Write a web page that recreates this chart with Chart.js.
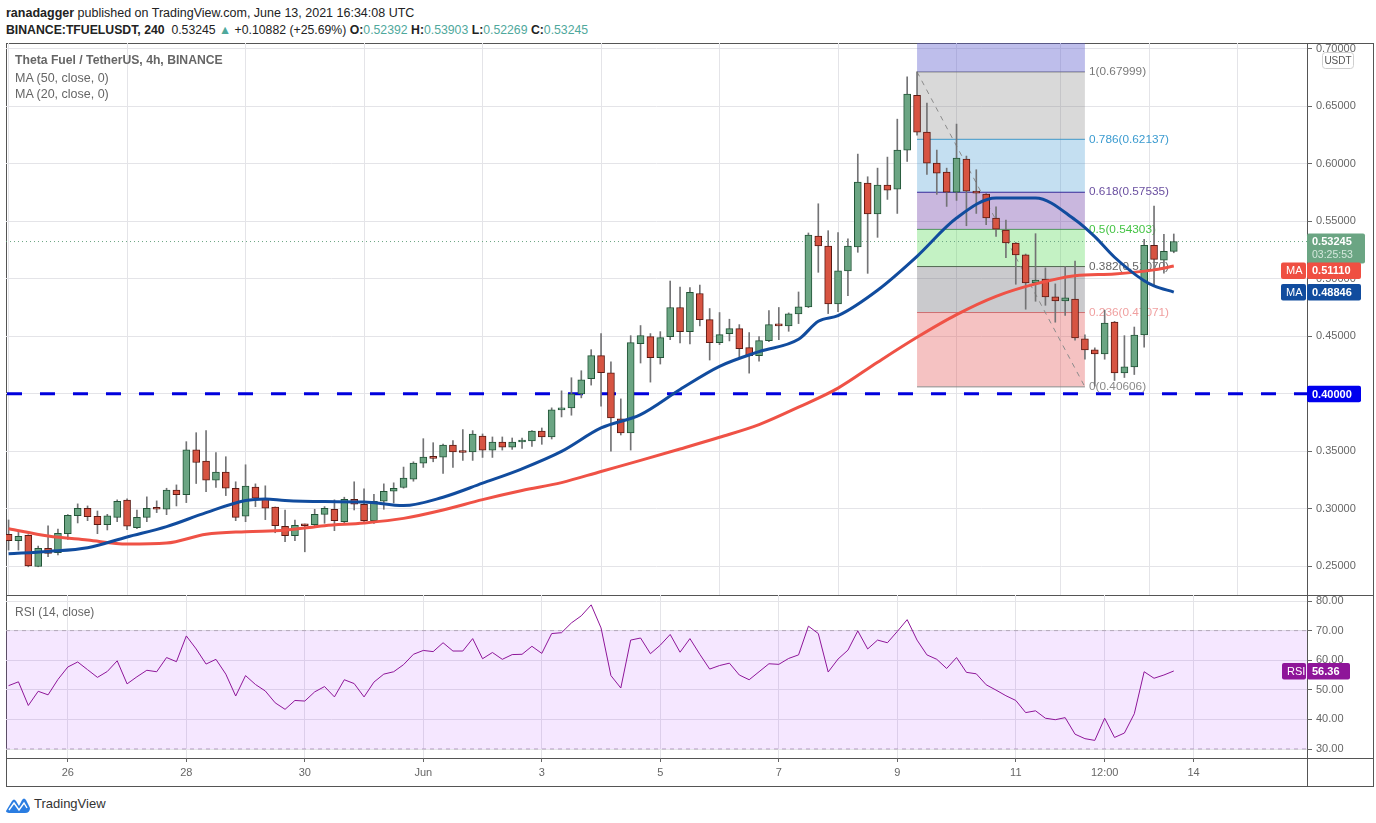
<!DOCTYPE html>
<html>
<head>
<meta charset="utf-8">
<title>TFUELUSDT 4h</title>
<script src="https://cdn.jsdelivr.net/npm/chart.js@4/dist/chart.umd.min.js"></script>
<style>
  html, body { margin: 0; padding: 0; background: #fff; width: 1376px; height: 823px; overflow: hidden; }
  body { position: relative; font-family: 'Liberation Sans', sans-serif; color: #222; }
  canvas { position: absolute; left: 0; }
  .frame { position: absolute; background: #555; }
  .head { position: absolute; left: 6px; font-size: 12.4px; white-space: nowrap; line-height: 16px; }
  .head b { font-weight: bold; }
  .up { color: #4fa89c; }
  .legend { position: absolute; left: 15px; font-size: 12.5px; color: #666; white-space: nowrap; line-height: 16px; z-index: 3; }
  .brand { position: absolute; left: 34px; top: 796px; font-size: 13px; color: #333; }
  svg { position: absolute; left: 6px; top: 796px; }
</style>
</head>
<body>
<div class="head" style="top:5px;font-size:12.5px"><b>ranadagger</b> published on TradingView.com, June 13, 2021 16:34:08 UTC</div>
<div class="head" style="top:22px;font-size:12.25px"><b>BINANCE:TFUELUSDT, 240</b>&nbsp; 0.53245 <span class="up">▲</span> +0.10882 (+25.69%) <b>O:</b><span class="up">0.52392</span> <b>H:</b><span class="up">0.53903</span> <b>L:</b><span class="up">0.52269</span> <b>C:</b><span class="up">0.53245</span></div>

<div class="frame" style="left:6px;top:43px;width:1368px;height:1px"></div>
<div class="frame" style="left:6px;top:595px;width:1368px;height:1px"></div>
<div class="frame" style="left:6px;top:758px;width:1368px;height:1px"></div>
<div class="frame" style="left:6px;top:786px;width:1368px;height:1px"></div>
<div class="frame" style="left:6px;top:43px;width:1px;height:744px"></div>
<div class="frame" style="left:1307px;top:43px;width:1px;height:744px"></div>
<div class="frame" style="left:1373px;top:43px;width:1px;height:744px"></div>

<canvas id="chart-price" width="1376" height="595" style="top:0"></canvas>
<canvas id="chart-rsi" width="1376" height="191" style="top:595px"></canvas>

<div class="legend" style="top:52px;font-weight:bold;font-size:12.2px">Theta Fuel / TetherUS, 4h, BINANCE</div>
<div class="legend" style="top:70px">MA (50, close, 0)</div>
<div class="legend" style="top:86px">MA (20, close, 0)</div>
<div class="legend" style="top:604px;font-size:12px">RSI (14, close)</div>

<svg width="24" height="18" viewBox="0 0 24 18">
  <path d="M0 15 L6 5 Q8 2 10 5 L13 10 L16 4 Q18 1 20 4 L24 12 Q24 17 19 17 L5 17 Q0 17 0 15 Z" fill="#2a7de1"/>
  <path d="M3 14 L8 7 L13 14 L18 7 L21 12" fill="none" stroke="#fff" stroke-width="1.4"/>
</svg>
<div class="brand">TradingView</div>

<script>
/* candles, bar index 0 = May 25 00:00, one bar = 4h */
const opens = [
  .2778,.2723,.2769,.2498,.2656,.2618,.2784,.2941,.3005,.2935,
  .2862,.2926,.3075,.2836,.2926,.3005,.2996,.3162,.3124,.3514,
  .3415,.3249,.3319,.3179,.2935,.3188,.3092,.3014,.2848,.2766,
  .2865,.2862,.2952,.2996,.2888,.3083,.3040,.2897,.3066,.3153,
  .3185,.3258,.3398,.3450,.3450,.3555,.3494,.3494,.3633,.3511,
  .3581,.3537,.3581,.3590,.3677,.3625,.3860,.3878,.4000,.4131,
  .4332,.4183,.3782,.3660,.4437,.4498,.4314,.4498,.4751,.4541,
  .4873,.4646,.4445,.4524,.4567,.4402,.4332,.4463,.4594,.4591,
  .4695,.4756,.5373,.5286,.4782,.5069,.5277,.5833,.5564,.5816,
  .5781,.6120,.6597,.6276,.6007,.5929,.5755,.6041,.5755,.5737,
  .5529,.5425,.5312,.5208,.4964,.4999,.4843,.4808,.4825,.4478,
  .4382,.4347,.4624,.4182,.4234,.4512,.5292,.5162,.52392
];
const highs = [
  .2903,.2795,.2775,.2676,.2851,.2824,.2950,.3043,.3025,.2981,
  .2952,.3078,.3086,.2990,.3104,.3069,.3179,.3208,.3584,.3662,
  .3680,.3488,.3453,.3235,.3383,.3217,.3200,.3016,.2990,.2903,
  .2868,.2996,.3019,.3078,.3101,.3235,.3174,.3127,.3217,.3226,
  .3363,.3409,.3610,.3575,.3563,.3593,.3689,.3680,.3651,.3625,
  .3625,.3616,.3616,.3680,.3703,.3878,.4026,.4140,.4201,.4384,
  .4524,.4279,.3956,.4506,.4594,.4524,.4541,.4981,.4928,.4925,
  .4946,.4742,.4707,.4649,.4602,.4533,.4498,.4725,.4751,.4704,
  .4886,.5399,.5653,.5419,.5402,.5349,.6085,.5888,.5963,.6059,
  .6389,.6757,.6800,.6528,.6120,.5963,.6346,.6068,.5949,.5742,
  .5627,.5512,.5316,.5216,.5393,.5095,.4956,.5109,.5155,.4513,
  .4400,.4728,.4630,.4506,.4581,.5344,.5633,.5387,.53903
];
const lows = [
  .2641,.2641,.2496,.2496,.2583,.2600,.2734,.2877,.2897,.2784,
  .2816,.2888,.2819,.2827,.2888,.2967,.2949,.3025,.3054,.3220,
  .3150,.3185,.3115,.2897,.2888,.3019,.2906,.2792,.2714,.2723,
  .2626,.2836,.2874,.2810,.2874,.2990,.2874,.2874,.2996,.3051,
  .3179,.3240,.3360,.3409,.3307,.3360,.3421,.3421,.3447,.3447,
  .3511,.3517,.3526,.3543,.3561,.3607,.3799,.3814,.3965,.4076,
  .3892,.3502,.3642,.3511,.4268,.4102,.4259,.4471,.4442,.4434,
  .4591,.4294,.4428,.4460,.4306,.4180,.4285,.4454,.4471,.4544,
  .4611,.4750,.5057,.4698,.4715,.4854,.5231,.5048,.5361,.5691,
  .5569,.6021,.6250,.5908,.5735,.5630,.5682,.5462,.5569,.5471,
  .5370,.5184,.4953,.4736,.4805,.4770,.4623,.4683,.4466,.4301,
  .4067,.4301,.4116,.4142,.4168,.4405,.4939,.5049,.52269
];
const closes = [
  .2723,.2760,.2504,.2656,.2612,.2787,.2944,.3005,.2932,.2862,
  .2938,.3066,.2848,.2926,.3005,.2996,.3162,.3124,.3514,.3403,
  .3249,.3319,.3179,.2926,.3197,.3092,.3005,.2853,.2766,.2856,
  .2853,.2952,.3005,.2897,.3083,.3040,.2897,.3066,.3153,.3179,
  .3267,.3398,.3450,.3438,.3555,.3494,.3490,.3651,.3511,.3581,
  .3537,.3581,.3590,.3677,.3625,.3860,.3869,.4000,.4122,.4332,
  .4183,.3790,.3660,.4445,.4506,.4314,.4489,.4751,.4541,.4882,
  .4646,.4445,.4515,.4567,.4393,.4332,.4463,.4602,.4591,.4695,
  .4756,.5381,.5286,.4782,.5069,.5286,.5842,.5564,.5816,.5772,
  .6120,.6606,.6276,.6007,.5920,.5755,.6050,.5763,.5746,.5529,
  .5433,.5312,.5208,.4964,.4990,.4843,.4808,.4834,.4486,.4382,
  .4347,.4616,.4182,.4234,.4512,.5292,.5170,.5240,.53245
];

const ma50Bars = [0,4,8,12,16,20,24,28,32,36,40,44,48,52,56,60,64,68,72,76,80,84,88,92,96,100,104,108,112,116,118];
const ma50Vals = [.2827,.2763,.2728,.2693,.2702,.2778,.2801,.2813,.2853,.2877,.2917,.2990,.3080,.3159,.3228,.3325,.3421,.3520,.3622,.3732,.3884,.4050,.4275,.4492,.4689,.4848,.4956,.5028,.5043,.5078,.5111];
const ma20Bars = [0,4,8,12,16,20,24,26,28,32,36,40,44,48,52,56,60,64,68,72,76,80,82,84,88,92,96,100,104,108,110,112,115,116,118];
const ma20Vals = [.2609,.2629,.2661,.2755,.2845,.2967,.3072,.3086,.3072,.3063,.3060,.3028,.3101,.3223,.3348,.3499,.3703,.3820,.4038,.4239,.4367,.4474,.4631,.4680,.4901,.5196,.5529,.5703,.5703,.5514,.5367,.5188,.4983,.4939,.48846];

const rsiVals = [
  51.4,52.7,44.7,49.5,48.3,53.5,57.7,59.4,56.8,54.2,
  56.2,59.8,52.0,54.4,56.6,56.1,60.9,59.5,68.2,63.8,
  58.7,60.3,55.3,47.9,54.8,51.8,49.6,45.6,43.4,46.4,
  46.2,49.3,51.1,47.6,53.4,52.1,47.6,52.6,55.3,56.1,
  58.5,62.0,63.3,62.9,65.9,63.1,63.1,67.3,60.5,62.6,
  60.3,61.9,62.0,64.7,62.3,69.0,69.3,72.6,75.0,78.7,
  70.9,54.8,50.6,66.8,67.5,62.2,65.1,68.7,62.7,67.3,
  62.0,57.0,58.2,59.0,55.0,53.4,56.1,58.8,58.6,60.6,
  61.8,71.5,69.0,56.0,60.4,63.4,69.9,63.8,66.8,65.9,
  69.7,73.7,66.8,61.8,60.3,57.2,60.9,55.9,55.4,51.7,
  49.9,48.0,46.4,42.3,42.9,40.4,39.9,40.6,35.0,33.5,
  32.9,40.4,33.9,35.4,41.9,56.1,53.9,55.0,56.36
];

/* fib retracement */
const fibLabels = ['1', '0.786', '0.618', '0.5', '0.382', '0.236', '0'];
const fibLevels = [0.67999, 0.62137, 0.57535, 0.54303, 0.51070, 0.47071, 0.40606];
const fibLines  = ['#787878', '#3b9bd0', '#311b92', '#4caf50', '#555555', '#e57373', '#8a8a8a'];
const fibText   = ['#787878', '#3b9bd0', '#6a4fa0', '#45c445', '#666666', '#f0a0a0', '#8a8a8a'];
const fibFills  = ['rgba(120,120,120,.28)', 'rgba(60,150,210,.3)', 'rgba(100,50,160,.35)',
                   'rgba(76,217,76,.33)', 'rgba(90,90,100,.32)', 'rgba(224,70,70,.33)'];
const fibStart = 92, fibEnd = 109;

/* axes */
const tickBars   = [6, 18, 30, 42, 54, 66, 78, 90, 102, 111, 120];
const tickLabels = ['26', '28', '30', 'Jun', '3', '5', '7', '9', '11', '12:00', '14'];
const priceTicks = [.25, .30, .35, .40, .45, .50, .55, .60, .65, .70];
const rsiTicks   = [30, 40, 50, 60, 70, 80];
const supportLevel = 0.40;

const BAR_MIN = -0.26, BAR_MAX = 131.49;
const GREEN = '#6ba583', GREEN_EDGE = '#225437', RED = '#d75442', RED_EDGE = '#5b1a13';
const FONT = "'Liberation Sans', sans-serif";

Chart.defaults.font.family = FONT;
Chart.defaults.animation = false;

const isUp = closes.map((c, i) => c >= opens[i]);
const flatLine = (y, from, to) => [{ x: from, y }, { x: to, y }];
const xy = (bars, vals) => bars.map((b, i) => ({ x: b, y: vals[i] }));

function noPadding(s) {
  s.paddingLeft = s.paddingRight = s.paddingTop = s.paddingBottom = 0;
}

function timeAxis(showLabels) {
  return {
    type: 'linear', min: BAR_MIN, max: BAR_MAX, offset: false,
    afterBuildTicks: s => { s.ticks = tickBars.map(v => ({ value: v })); },
    afterFit: s => { s.height = showLabels ? 28 : 0; noPadding(s); },
    grid: { color: '#e4e4e8', drawTicks: showLabels, tickLength: 4, tickColor: '#666' },
    border: { display: false },
    ticks: {
      display: showLabels, autoSkip: false, maxRotation: 0, padding: 4,
      color: '#666', font: { size: 11 },
      callback: v => tickLabels[tickBars.indexOf(v)]
    }
  };
}

function valueAxis(min, max, ticks, fmt) {
  return {
    position: 'right', min, max,
    afterBuildTicks: s => { s.ticks = ticks.map(v => ({ value: v })); },
    afterFit: s => { s.width = 66; noPadding(s); },
    grid: { color: '#e4e4e8', tickLength: 5, tickColor: '#666' },
    border: { display: false },
    ticks: { color: '#666', padding: 4, font: { size: 11 }, callback: fmt }
  };
}

function tag(ctx, x, y, w, h, fill, text, color, bold) {
  ctx.fillStyle = fill;
  ctx.beginPath();
  ctx.roundRect(x, y, w, h, 2);
  ctx.fill();
  ctx.fillStyle = color;
  ctx.font = (bold ? 'bold ' : '') + '11px ' + FONT;
  ctx.textAlign = 'left';
  ctx.textBaseline = 'middle';
  ctx.fillText(text, x + 5, y + h / 2 + 0.5);
}

const fibLabelPlugin = {
  id: 'fibLabels',
  beforeDatasetsDraw(chart) {
    const { ctx, scales: { y } } = chart;
    ctx.save();
    ctx.font = '11.8px ' + FONT;
    ctx.textBaseline = 'middle';
    ctx.textAlign = 'left';
    fibLevels.forEach((lvl, i) => {
      ctx.fillStyle = fibText[i];
      ctx.fillText(fibLabels[i] + '(' + lvl.toFixed(5) + ')', 1089, y.getPixelForValue(lvl));
    });
    ctx.restore();
  }
};

const priceTagPlugin = {
  id: 'priceTags',
  afterDraw(chart) {
    const { ctx, scales: { y } } = chart;
    const last = closes[closes.length - 1];
    const lastY = y.getPixelForValue(last);
    ctx.save();
    // usdt badge
    ctx.fillStyle = '#fff';
    ctx.strokeStyle = '#cfcfcf';
    ctx.beginPath();
    ctx.roundRect(1322.5, 52.5, 31, 16, 3);
    ctx.fill();
    ctx.stroke();
    ctx.fillStyle = '#555';
    ctx.font = '10px ' + FONT;
    ctx.textAlign = 'center';
    ctx.textBaseline = 'middle';
    ctx.fillText('USDT', 1338, 61);
    // last price, two rows
    tag(ctx, 1307, lastY - 8, 58, 30, GREEN, '', '#fff', true);
    ctx.fillStyle = '#fff';
    ctx.font = 'bold 11px ' + FONT;
    ctx.fillText(last.toFixed(5), 1312, lastY + 0.5);
    ctx.fillStyle = '#d5e8dc';
    ctx.font = '10.5px ' + FONT;
    ctx.fillText('03:25:53', 1312, lastY + 14);
    // moving averages
    const ma50Y = y.getPixelForValue(ma50Vals[ma50Vals.length - 1]) + 4.5;
    const ma20Y = y.getPixelForValue(ma20Vals[ma20Vals.length - 1]);
    tag(ctx, 1281, ma50Y - 8, 25, 16.5, '#ef4f42', 'MA', '#fff', false);
    tag(ctx, 1307, ma50Y - 8, 54, 16.5, '#ef4f42', ma50Vals[ma50Vals.length - 1].toFixed(5), '#fff', true);
    tag(ctx, 1281, ma20Y - 8, 25, 16.5, '#114c9e', 'MA', '#fff', false);
    tag(ctx, 1307, ma20Y - 8, 54, 16.5, '#114c9e', ma20Vals[ma20Vals.length - 1].toFixed(5), '#fff', true);
    // support line
    tag(ctx, 1307, y.getPixelForValue(supportLevel) - 8, 54, 16.5, '#0000ee', supportLevel.toFixed(5), '#fff', true);
    ctx.restore();
  }
};

const rsiTagPlugin = {
  id: 'rsiTag',
  afterDraw(chart) {
    const { ctx, scales: { y } } = chart;
    const last = rsiVals[rsiVals.length - 1];
    const py = y.getPixelForValue(last);
    ctx.save();
    tag(ctx, 1282, py - 8, 24, 16.5, '#8e1599', 'RSI', '#fff', false);
    tag(ctx, 1307, py - 8, 43, 16.5, '#8e1599', last.toFixed(2), '#fff', true);
    ctx.restore();
  }
};

function drawPriceChart() {
  const ctx = document.getElementById('chart-price').getContext('2d');
  const bars = opens.map((o, i) => i);
  const yMax = 0.70513, yMin = 0.22504;

  const fibZones = fibFills.map((c, i) => ({
    type: 'line', order: 10,
    data: flatLine(fibLevels[i], fibStart, fibEnd),
    borderColor: fibLines[i], borderWidth: 1, pointRadius: 0,
    backgroundColor: c, fill: { value: fibLevels[i + 1] }
  }));

  new Chart(ctx, {
    type: 'bar',
    data: {
      datasets: [
        {
          type: 'line', order: 10,
          data: flatLine(yMax, fibStart, fibEnd),
          borderWidth: 0, pointRadius: 0,
          backgroundColor: 'rgba(92,92,205,.4)', fill: { value: fibLevels[0] }
        },
        ...fibZones,
        {
          type: 'line', order: 9,
          data: flatLine(fibLevels[6], fibStart, fibEnd),
          borderColor: fibLines[6], borderWidth: 1, pointRadius: 0
        },
        {
          type: 'line', order: 9,
          data: [{ x: fibStart, y: fibLevels[0] }, { x: fibEnd, y: fibLevels[6] }],
          borderColor: '#8a8a8a', borderWidth: 1, borderDash: [5, 5], pointRadius: 0
        },
        {
          type: 'line', order: 8,
          data: flatLine(closes[closes.length - 1], BAR_MIN, BAR_MAX),
          borderColor: GREEN, borderWidth: 1, borderDash: [1, 3], pointRadius: 0
        },
        {
          type: 'line', order: 7,
          data: flatLine(supportLevel, BAR_MIN + 0.1, BAR_MAX),
          borderColor: '#0000dd', borderWidth: 3, borderDash: [15, 18], pointRadius: 0
        },
        {
          order: 5, grouped: false, barThickness: 1,
          data: bars.map(i => ({ x: i, y: [lows[i], highs[i]] })),
          backgroundColor: '#737375'
        },
        {
          order: 4, grouped: false, barThickness: 7, minBarLength: 2,
          data: bars.map(i => ({ x: i, y: [opens[i], closes[i]] })),
          backgroundColor: isUp.map(u => u ? GREEN : RED),
          borderColor: isUp.map(u => u ? GREEN_EDGE : RED_EDGE),
          borderWidth: 1, borderSkipped: false
        },
        {
          type: 'line', order: 3,
          data: xy(ma50Bars, ma50Vals),
          borderColor: '#ef5246', borderWidth: 3, pointRadius: 0,
          cubicInterpolationMode: 'monotone'
        },
        {
          type: 'line', order: 2,
          data: xy(ma20Bars, ma20Vals),
          borderColor: '#114c9e', borderWidth: 3, pointRadius: 0,
          cubicInterpolationMode: 'monotone'
        }
      ]
    },
    options: {
      responsive: false,
      layout: { padding: { left: 6, right: 3, top: 43, bottom: 0 } },
      plugins: { legend: { display: false }, tooltip: { enabled: false } },
      scales: {
        x: timeAxis(false),
        y: valueAxis(yMin, yMax, priceTicks, v => v.toFixed(5))
      }
    },
    plugins: [fibLabelPlugin, priceTagPlugin]
  });
}

function drawRsiChart() {
  const ctx = document.getElementById('chart-rsi').getContext('2d');
  new Chart(ctx, {
    type: 'line',
    data: {
      datasets: [
        {
          order: 5,
          data: flatLine(70, BAR_MIN, BAR_MAX),
          borderColor: '#b3a9b8', borderWidth: 1, borderDash: [4, 4], pointRadius: 0,
          backgroundColor: 'rgba(153,21,255,.1)', fill: { value: 30 }
        },
        {
          order: 5,
          data: flatLine(30, BAR_MIN, BAR_MAX),
          borderColor: '#b3a9b8', borderWidth: 1, borderDash: [4, 4], pointRadius: 0
        },
        {
          order: 1,
          data: rsiVals.map((v, i) => ({ x: i, y: v })),
          borderColor: '#8e1599', borderWidth: 1, pointRadius: 0, tension: 0
        }
      ]
    },
    options: {
      responsive: false,
      layout: { padding: { left: 6, right: 3, top: 0, bottom: 0 } },
      plugins: { legend: { display: false }, tooltip: { enabled: false } },
      scales: {
        x: timeAxis(true),
        y: valueAxis(26.96, 82.03, rsiTicks, v => v.toFixed(2))
      }
    },
    plugins: [rsiTagPlugin]
  });
}

drawPriceChart();
drawRsiChart();
</script>
</body>
</html>
